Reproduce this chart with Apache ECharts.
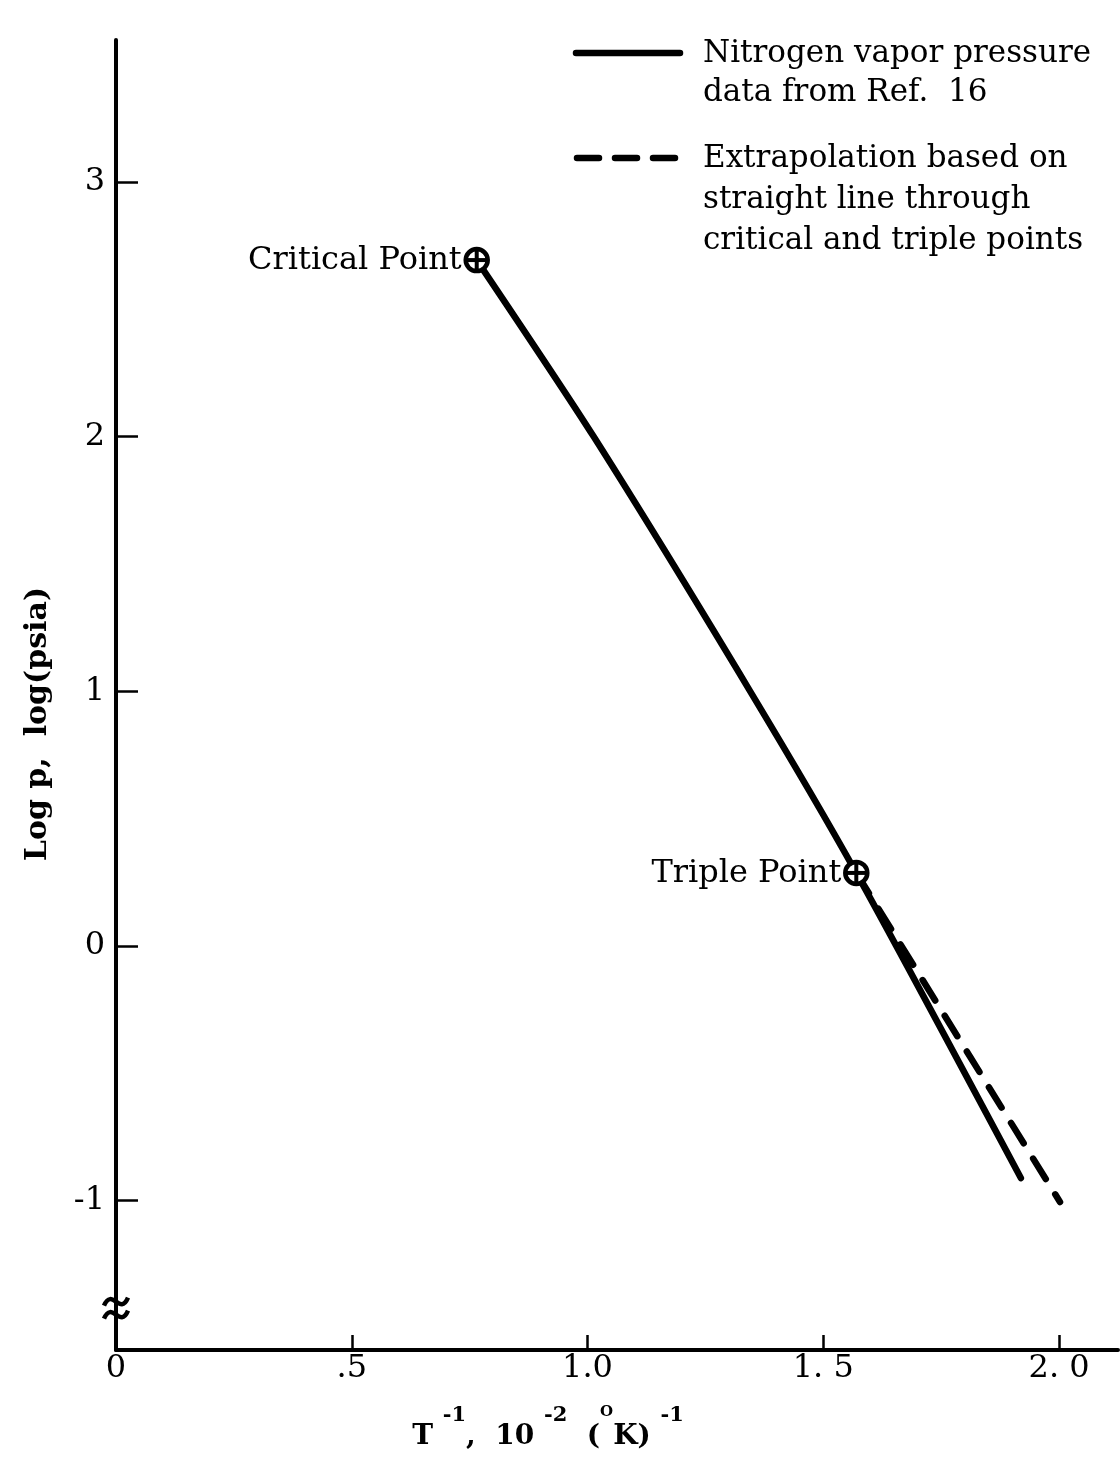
<!DOCTYPE html>
<html>
<head>
<meta charset="utf-8">
<title>Nitrogen vapor pressure</title>
<script src="https://cdn.jsdelivr.net/npm/echarts@6/dist/echarts.min.js"></script>
<style>
  html, body { margin: 0; padding: 0; background: #fff; }
  #chart { width: 1120px; height: 1463px; }
</style>
</head>
<body>
<div id="chart"></div>
<script>
// Axis ticks and their printed labels
const xTickValues = [0, 0.5, 1.0, 1.5, 2.0];
const xTickLabels = ['0', '.5', '1.0', '1. 5', '2. 0'];
const yTickValues = [-1, 0, 1, 2, 3];
const yTickLabels = ['-1', '0', '1', '2', '3'];

// Vapor pressure curve (Ref. 16): 1/T in 10^-2 K^-1, log p in log(psia)
const vaporX = [0.765, 1.013, 1.345, 1.570, 1.919];
const vaporY = [2.693, 2.000, 1.000, 0.287, -0.911];

// Straight-line extrapolation through critical and triple points
const extrapX = [1.570, 2.002];
const extrapY = [0.287, -1.005];

// Marked points
const pointNames = ['Critical Point', 'Triple Point'];
const pointX = [0.765, 1.570];
const pointY = [2.693, 0.287];

const SERIF = '"DejaVu Serif", "Liberation Serif", serif';
const INK = '#000';

const chart = echarts.init(document.getElementById('chart'), null, { renderer: 'canvas' });

const zip = (xs, ys) => xs.map((x, i) => [x, ys[i]]);

function markerItem(params, api) {
  const p = api.coord([api.value(0), api.value(1)]);
  const r = 11;
  return {
    type: 'group',
    children: [
      { type: 'circle', shape: { cx: p[0], cy: p[1], r: r },
        style: { fill: '#fff', stroke: INK, lineWidth: 4.5 } },
      { type: 'line', shape: { x1: p[0] - r, y1: p[1], x2: p[0] + r, y2: p[1] },
        style: { stroke: INK, lineWidth: 4 } },
      { type: 'line', shape: { x1: p[0], y1: p[1] - r, x2: p[0], y2: p[1] + r },
        style: { stroke: INK, lineWidth: 4 } },
      { type: 'text', x: p[0] - 15, y: p[1] + 1,
        style: { text: pointNames[params.dataIndex], fill: INK, font: '32px ' + SERIF,
                 align: 'right', verticalAlign: 'middle' } }
    ]
  };
}

const option = {
  backgroundColor: '#fff',
  animation: false,
  grid: { left: 116, right: 2, top: 40, bottom: 113, containLabel: false },
  xAxis: {
    type: 'value',
    min: 0,
    max: 2.125,
    splitLine: { show: false },
    axisLine: { show: true, onZero: false, lineStyle: { color: INK, width: 4 } },
    axisTick: { show: true, inside: true, length: 15, lineStyle: { color: INK, width: 2.5 },
                customValues: xTickValues.slice(1) },
    axisLabel: {
      customValues: xTickValues,
      margin: 3,
      color: INK,
      fontFamily: SERIF,
      fontSize: 32,
      formatter: v => xTickLabels[xTickValues.indexOf(v)]
    }
  },
  yAxis: {
    type: 'value',
    min: -1.586,
    max: 3.557,
    splitLine: { show: false },
    axisLine: { show: true, onZero: false, lineStyle: { color: INK, width: 4 } },
    axisTick: { show: true, inside: true, length: 22, lineStyle: { color: INK, width: 2.5 },
                customValues: yTickValues },
    axisLabel: {
      customValues: yTickValues,
      margin: 11,
      color: INK,
      fontFamily: SERIF,
      fontSize: 32,
      formatter: v => yTickLabels[yTickValues.indexOf(v)]
    }
  },
  series: [
    {
      name: 'Extrapolation',
      type: 'line',
      data: zip(extrapX, extrapY),
      symbol: 'none',
      z: 2,
      lineStyle: { color: INK, width: 6.5, type: [24, 18], cap: 'round' }
    },
    {
      name: 'Nitrogen vapor pressure',
      type: 'line',
      data: zip(vaporX, vaporY),
      symbol: 'none',
      smooth: 0.25,
      z: 3,
      lineStyle: { color: INK, width: 6.5, cap: 'round', join: 'round' }
    },
    {
      name: 'Points',
      type: 'custom',
      z: 5,
      data: zip(pointX, pointY),
      renderItem: markerItem
    }
  ]
};

chart.setOption(option);

// Decorations placed from the axes: axis break mark, titles and key
const brk = chart.convertToPixel({ gridIndex: 0 }, [0, -1.42]);
const tilde = (dy) => ({
  type: 'bezierCurve',
  shape: { x1: -12, y1: 4 + dy, cpx1: -4, cpy1: -15 + dy, cpx2: 4, cpy2: 15 + dy, x2: 12, y2: -4 + dy },
  style: { fill: null, stroke: INK, lineWidth: 4.5 }
});

chart.setOption({
  graphic: [
    {
      type: 'group',
      x: brk[0], y: brk[1], z: 100,
      children: [
        { type: 'rect', shape: { x: -6, y: -13, width: 12, height: 26 },
          style: { fill: '#fff' } },
        tilde(-6),
        tilde(7)
      ]
    },
    {
      type: 'text',
      x: 38, y: 724, rotation: Math.PI / 2,
      style: { text: 'Log p,  log(psia)', fill: INK, font: 'bold 30px ' + SERIF,
               align: 'center', verticalAlign: 'middle' }
    },
    {
      type: 'text',
      x: 548, y: 1428,
      style: {
        text: '{b|T }{s|-1}{b|,  10 }{s|-2}{b|  (}{o|O}{b|K) }{s|-1}',
        align: 'center', verticalAlign: 'middle',
        rich: {
          b: { fontFamily: SERIF, fontWeight: 'bold', fontSize: 28, fill: INK, verticalAlign: 'bottom', lineHeight: 46 },
          s: { fontFamily: SERIF, fontWeight: 'bold', fontSize: 21, fill: INK, verticalAlign: 'top', lineHeight: 46 },
          o: { fontFamily: SERIF, fontWeight: 'bold', fontSize: 15, fill: INK, verticalAlign: 'top', lineHeight: 40 }
        }
      }
    },
    {
      type: 'line', z: 50,
      shape: { x1: 576, y1: 53, x2: 680, y2: 53 },
      style: { stroke: INK, lineWidth: 6.5, lineCap: 'round' }
    },
    {
      type: 'line', z: 50,
      shape: { x1: 577, y1: 158, x2: 681, y2: 158 },
      style: { stroke: INK, lineWidth: 6.5, lineCap: 'round', lineDash: [22, 16] }
    },
    {
      type: 'text', z: 50,
      x: 703, y: 34,
      style: { text: 'Nitrogen vapor pressure\ndata from Ref.  16', fill: INK,
               font: '31px ' + SERIF, lineHeight: 39, verticalAlign: 'top' }
    },
    {
      type: 'text', z: 50,
      x: 703, y: 138,
      style: { text: 'Extrapolation based on\nstraight line through\ncritical and triple points', fill: INK,
               font: '31px ' + SERIF, lineHeight: 41, verticalAlign: 'top' }
    }
  ]
});
</script>
</body>
</html>
